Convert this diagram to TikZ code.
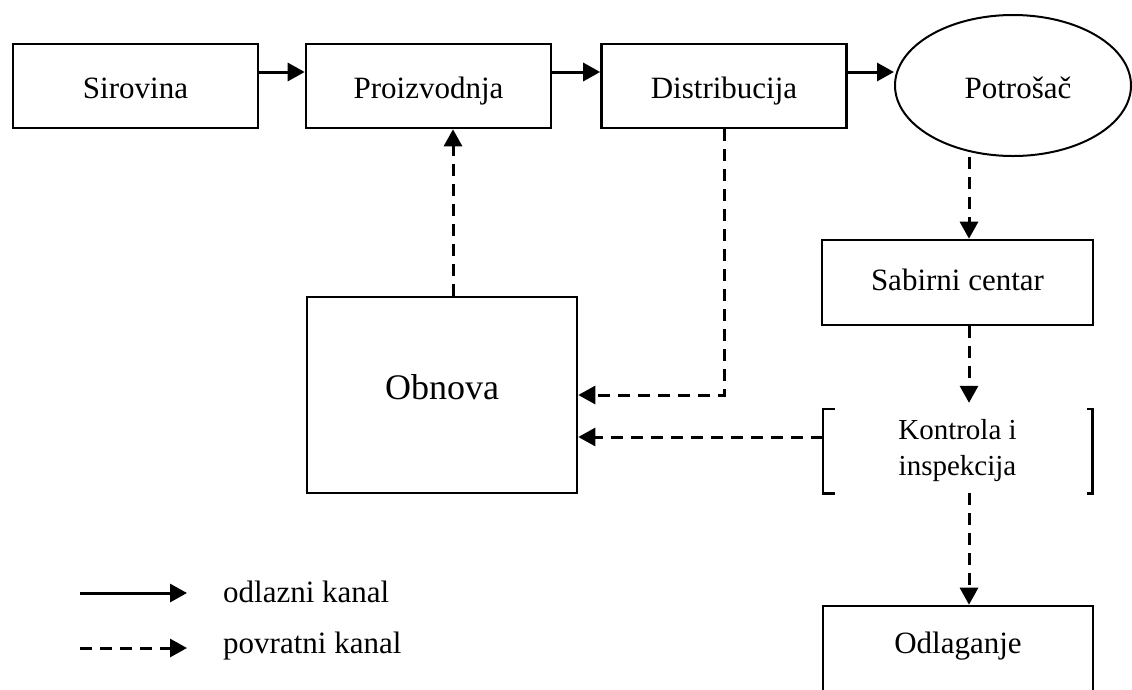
\documentclass[tikz,border=0pt]{standalone}
\usepackage{fontspec}
\setmainfont{Liberation Serif}
\usetikzlibrary{arrows.meta,positioning,shapes.geometric}

\begin{document}
\begin{tikzpicture}[x=1pt, y=-1pt,
    every node/.style={font=\fontsize{31}{37}\selectfont},
    box/.style={draw, line width=2.6pt, minimum width=245pt,
        minimum height=84pt, inner sep=0pt, text height=24pt, text depth=0pt},
    odlazni/.style={line width=3pt, -{Triangle[length=17pt,width=18pt]}},
    povratni/.style={line width=3pt, dash pattern=on 12pt off 8pt,
        -{Triangle[length=17pt,width=18pt]}},
    bracketline/.style={line width=2.6pt},
    legtext/.style={anchor=base west, inner sep=0pt}]
    \useasboundingbox (0,0) rectangle (1132,689);
    \clip (0,0) rectangle (1132,689);
    \node[box] (sirovina) at (135.5,86) {Sirovina};
    \node[box] (proizvodnja) at (428.5,86) {Proizvodnja};
    \node[box] (distribucija) at (724,86) {Distribucija};
    \node[draw, ellipse, line width=2pt, minimum width=236pt,
        minimum height=141pt, inner sep=0pt] (potrosac) at (1013,85.5) {};
    \node[anchor=base, inner sep=0pt] (potrosactext) at (1018,98) {Potrošač};
    \node[box, minimum width=271pt, minimum height=85pt, text height=15pt]
        (sabirni) at (957.5,282.5) {Sabirni centar};
    \node[minimum width=269pt, minimum height=84pt, inner sep=0pt, align=center,
        font=\fontsize{29}{36}\selectfont] (kontrola) at (957.5,451)
        {Kontrola i\\inspekcija};
    \node[box, minimum width=270pt, minimum height=85pt, text height=9pt]
        (odlaganje) at (958,648.5) {Odlaganje};
    \node[box, minimum width=270pt, minimum height=196pt, text height=8pt,
        font=\fontsize{36}{43}\selectfont] (obnova) at (442,395) {Obnova};
    \draw[bracketline] ([xshift=12pt]kontrola.north west) -| (kontrola.south west)
        -- ++(12pt,0);
    \draw[bracketline] ([xshift=-5pt]kontrola.north east) -| (kontrola.south east)
        -- ++(-5pt,0);
    \draw[odlazni] ([yshift=14pt]sirovina.east) -- ([yshift=14pt]proizvodnja.west);
    \draw[odlazni] ([yshift=14pt]proizvodnja.east) -- ([yshift=14pt]distribucija.west);
    \draw[odlazni] ([yshift=14pt]distribucija.east)
        -- ([yshift=14pt]distribucija.east -| potrosac.west);
    \draw[povratni] ([xshift=11pt]obnova.north)
        -- ([xshift=11pt]obnova.north |- proizvodnja.south);
    \draw[povratni] (distribucija.south) |- (obnova.east);
    \draw[povratni] ([yshift=14pt]kontrola.west)
        -- ([yshift=14pt]kontrola.west -| obnova.east);
    \draw[povratni] ([xshift=11.5pt]sabirni.north |- potrosac.south)
        -- ([xshift=11.5pt]sabirni.north);
    \draw[povratni] ([xshift=11.5pt]sabirni.south)
        -- ([xshift=11.5pt,yshift=6pt]kontrola.north);
    \draw[povratni] ([xshift=11.5pt]kontrola.south)
        -- ([xshift=11pt]odlaganje.north);
    \node[legtext] (odl) at (223,602) {odlazni kanal};
    \node[legtext] (pov) at (223,653) {povratni kanal};
    \coordinate (odlstart) at (80,593);
    \coordinate (povstart) at (80,648);
    \draw[odlazni, shorten >=36pt] (odlstart) -- (odlstart -| odl.west);
    \draw[povratni, shorten >=36pt] (povstart) -- (povstart -| pov.west);
\end{tikzpicture}
\end{document}
